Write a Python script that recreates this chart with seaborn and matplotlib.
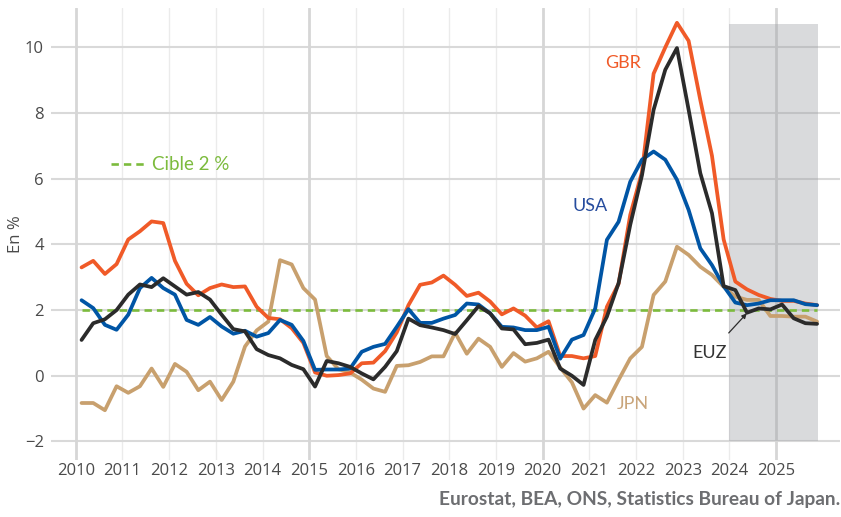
import numpy as np
import pandas as pd
import matplotlib
matplotlib.use("Agg")
import matplotlib.pyplot as plt
import seaborn as sns

# ---------------- data (quarterly, 2010Q1 .. 2025Q4) ----------------
years = list(range(2010, 2026))
quarters = [y + 0.125 + 0.25 * q for y in years for q in range(4)]

gbr = [3.3, 3.5, 3.1, 3.4, 4.15, 4.4, 4.7, 4.65, 3.5, 2.8, 2.45, 2.67, 2.78, 2.7, 2.72, 2.1,
       1.76, 1.72, 1.45, 1.0, 0.1, 0.0, 0.02, 0.07, 0.38, 0.4, 0.75, 1.32, 2.15, 2.77, 2.84, 3.05,
       2.77, 2.43, 2.53, 2.26, 1.87, 2.05, 1.83, 1.47, 1.66, 0.6, 0.6, 0.53, 0.6, 2.1, 2.8, 4.9,
       6.2, 9.2, 10.0, 10.75, 10.2, 8.4, 6.7, 4.15, 2.87, 2.63, 2.46, 2.34, 2.28, 2.28, 2.2, 2.15]

usa = [2.3, 2.06, 1.55, 1.4, 1.86, 2.67, 2.98, 2.67, 2.47, 1.7, 1.55, 1.79, 1.5, 1.28, 1.37, 1.19,
       1.3, 1.7, 1.55, 1.06, 0.18, 0.19, 0.19, 0.22, 0.73, 0.88, 0.97, 1.49, 2.03, 1.61, 1.61, 1.74,
       1.85, 2.2, 2.17, 1.9, 1.49, 1.47, 1.39, 1.39, 1.49, 0.52, 1.1, 1.24, 2.05, 4.14, 4.69, 5.91,
       6.58, 6.83, 6.58, 5.97, 5.05, 3.88, 3.37, 2.73, 2.23, 2.15, 2.2, 2.3, 2.3, 2.3, 2.18, 2.15]

euz = [1.09, 1.6, 1.72, 2.0, 2.47, 2.78, 2.7, 2.97, 2.72, 2.47, 2.55, 2.32, 1.86, 1.42, 1.35, 0.81,
       0.63, 0.53, 0.33, 0.2, -0.33, 0.45, 0.38, 0.27, 0.07, -0.11, 0.27, 0.75, 1.74, 1.54, 1.47, 1.39,
       1.27, 1.69, 2.12, 1.9, 1.44, 1.41, 0.96, 1.0, 1.1, 0.22, 0.0, -0.28, 1.09, 1.8, 2.82, 4.6,
       6.1, 8.1, 9.32, 9.98, 8.1, 6.17, 4.95, 2.73, 2.61, 1.92, 2.05, 2.02, 2.17, 1.75, 1.6, 1.58]

jpn = [-0.83, -0.83, -1.05, -0.32, -0.52, -0.32, 0.22, -0.34, 0.36, 0.12, -0.44, -0.18, -0.74, -0.18, 0.89, 1.38,
       1.65, 3.52, 3.39, 2.67, 2.32, 0.6, 0.2, 0.1, -0.12, -0.39, -0.49, 0.3, 0.32, 0.42, 0.59, 0.59,
       1.31, 0.67, 1.13, 0.88, 0.27, 0.69, 0.43, 0.53, 0.73, 0.25, -0.2, -1.0, -0.59, -0.82, -0.13, 0.53,
       0.88, 2.46, 2.87, 3.93, 3.68, 3.32, 3.07, 2.71, 2.41, 2.31, 2.31, 1.82, 1.82, 1.8, 1.8, 1.65]

target = [2.0] * len(quarters)

series_names = ["JPN", "GBR", "USA", "EUZ"]
series_values = [jpn, gbr, usa, euz]
palette = {"GBR": "#F05A28", "USA": "#0055A5", "EUZ": "#2B2B2B", "JPN": "#C8A06E"}
label_colors = {"GBR": "#F05A28", "USA": "#264C9E", "EUZ": "#333333", "JPN": "#C9A57B"}
green = "#7CBB3D"

forecast_start, forecast_end = 2024.0, 2025.9
shade_bottom, shade_top = -2.0, 10.72

df = pd.DataFrame({
    "date": np.tile(quarters, len(series_names)),
    "value": np.concatenate(series_values),
    "pays": np.repeat(series_names, len(quarters)),
})

# ---------------- figure ----------------
sns.set_theme(style="white")
plt.rcParams["font.family"] = ["Open Sans", "DejaVu Sans"]

fig = plt.figure(figsize=(8.41, 5.17), dpi=100)
ax = fig.add_axes([0.0606, 0.110, 0.9384, 0.8745])

# grid
ax.set_xlim(2009.47, 2026.37)
ax.set_ylim(-2.57, 11.2)
ax.set_yticks([-2, 0, 2, 4, 6, 8, 10])
ax.set_xticks(years)
ax.set_xticklabels([str(y) for y in years])
ax.grid(axis="y", color="#D9D9D9", linewidth=1.5, zorder=0)
ax.grid(axis="x", color="#EBEBEB", linewidth=1.0, zorder=0)
ax.set_axisbelow(True)
for y in [2010, 2015, 2020, 2025]:
    ax.axvline(y, color="#D6D6D6", linewidth=2.0, zorder=0.6)

# forecast shade (semi-transparent so the grid shows through)
ax.fill_between([forecast_start, forecast_end], shade_bottom, shade_top,
                color="#9A9CA2", alpha=0.37, linewidth=0, zorder=1)

# 2 % target
sns.lineplot(x=quarters, y=target, ax=ax, color=green, linewidth=1.9,
             dashes=False, zorder=2)
ax.lines[-1].set_dashes((2.8, 1.9))

# series
sns.lineplot(data=df, x="date", y="value", hue="pays", hue_order=series_names,
             palette=palette, linewidth=2.7, ax=ax, legend=False, zorder=3)

# spines / ticks
for s in ax.spines.values():
    s.set_visible(False)
ax.tick_params(axis="both", length=0, labelsize=12, labelcolor="#4A4A4A")
ax.tick_params(axis="x", pad=2)
ax.tick_params(axis="y", pad=5)
ax.set_xlabel("")
ax.set_ylabel("En %", fontsize=12, color="#4A4A4A", labelpad=1)

# direct labels
lab_font = dict(fontsize=13, family=["Lato", "DejaVu Sans"], ha="center", va="center")
ax.text(2021.72, 9.54, "GBR", color=label_colors["GBR"], **lab_font)
ax.text(2021.01, 5.16, "USA", color=label_colors["USA"], **lab_font)
ax.text(2021.93, -0.87, "JPN", color=label_colors["JPN"], **lab_font)
ax.annotate("EUZ", xy=(2024.37, 1.9), xytext=(2023.58, 0.68),
            color=label_colors["EUZ"], ha="center", va="center", fontsize=13,
            family=["Lato", "DejaVu Sans"],
            arrowprops=dict(arrowstyle="-|>", color="#2B2B2B", lw=0.9,
                            mutation_scale=7, shrinkA=9, shrinkB=0))

# target legend
ax.plot([2010.76, 2011.47], [6.44, 6.44], color=green, linewidth=1.9,
        dashes=(2.8, 1.9), zorder=2)
ax.text(2011.64, 6.44, "Cible 2 %", color=green, fontsize=13.5,
        family=["Lato", "DejaVu Sans"], ha="left", va="center")

# source
fig.text(0.9995, 1 - 500 / 517, "Eurostat, BEA, ONS, Statistics Bureau of Japan.",
         ha="right", va="center", fontsize=13.8, fontweight="bold",
         color="#6D6E71", family=["Lato", "DejaVu Sans"])

fig.savefig("out.png", dpi=100)
